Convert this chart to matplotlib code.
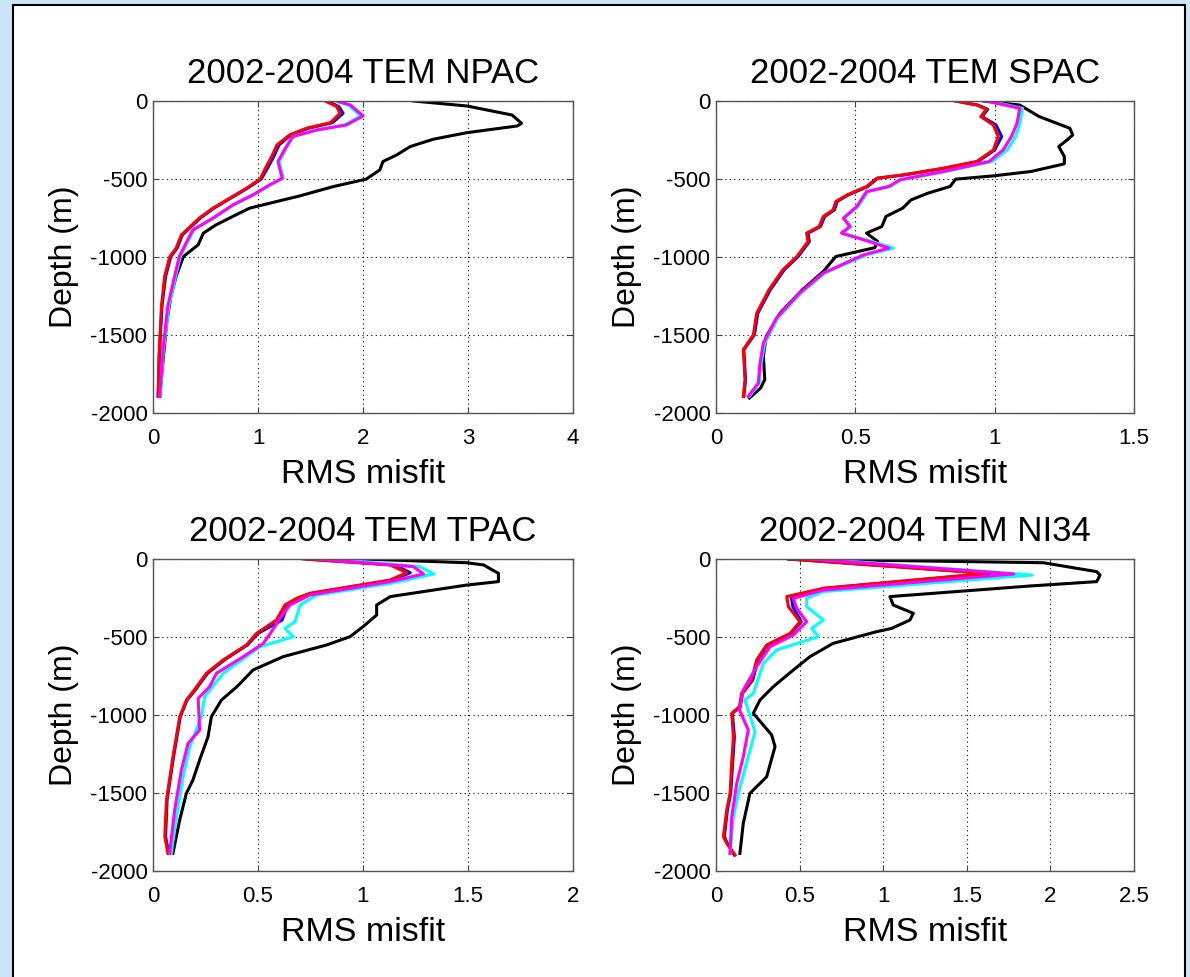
import matplotlib
matplotlib.use("Agg")
import matplotlib.pyplot as plt
from matplotlib.patches import Rectangle

plt.rcParams['font.family'] = ['Liberation Sans', 'DejaVu Sans']

# --- Data ---
titles = ["2002-2004 TEM NPAC", "2002-2004 TEM SPAC", "2002-2004 TEM TPAC", "2002-2004 TEM NI34"]
xlims = [4, 1.5, 2, 2.5]
xticks_list = [[0, 1, 2, 3, 4], [0, 0.5, 1, 1.5], [0, 0.5, 1, 1.5, 2], [0, 0.5, 1, 1.5, 2, 2.5]]
yticks = [0, -500, -1000, -1500, -2000]
series_colors = ["black", "blue", "red", "cyan", "magenta"]

# NPAC
npac_black_z = [0, -32, -90, -143, -160, -203, -245, -292, -346, -388, -442, -501, -548, -608, -644, -687,
                -730, -794, -847, -922, -997, -1125, -1253, -1423, -1637, -1893]
npac_black_x = [2.48, 2.99, 3.42, 3.51, 3.47, 2.99, 2.67, 2.45, 2.32, 2.19, 2.16, 2.03, 1.72, 1.40, 1.18, 0.92,
                0.79, 0.60, 0.48, 0.43, 0.29, 0.22, 0.17, 0.13, 0.10, 0.064]
npac_red_z = [0, -36, -79, -139, -175, -218, -282, -356, -431, -501, -559, -623, -687, -751, -858, -943,
              -997, -1125, -1317, -1637, -1893]
npac_red_x = [1.64, 1.75, 1.78, 1.69, 1.46, 1.30, 1.18, 1.13, 1.07, 1.02, 0.89, 0.73, 0.57, 0.44, 0.27, 0.22,
              0.16, 0.11, 0.08, 0.057, 0.048]
npac_blue_z = npac_red_z
npac_blue_x = [1.66, 1.77, 1.81, 1.71, 1.48, 1.31, 1.20, 1.15, 1.09, 1.03, 0.90, 0.74, 0.58, 0.45, 0.28, 0.23,
               0.17, 0.12, 0.085, 0.06, 0.05]
npac_mag_z = [0, -26, -96, -154, -186, -228, -303, -388, -495, -538, -602, -666, -751, -826, -890, -997,
              -1168, -1317, -1594, -1893]
npac_mag_x = [1.75, 1.88, 2.00, 1.84, 1.56, 1.33, 1.26, 1.19, 1.23, 1.11, 0.95, 0.76, 0.57, 0.38, 0.33, 0.25,
              0.19, 0.14, 0.095, 0.064]
npac_cyan_z = npac_mag_z
npac_cyan_x = [1.74, 1.86, 1.98, 1.82, 1.55, 1.33, 1.27, 1.20, 1.24, 1.12, 0.96, 0.77, 0.58, 0.39, 0.34, 0.26,
               0.20, 0.15, 0.10, 0.07]

# SPAC
spac_black_z = [0, -26, -100, -175, -218, -250, -292, -356, -403, -452, -480, -501, -548, -591, -634, -687,
                -740, -805, -847, -900, -940, -997, -1093, -1210, -1360, -1510, -1637, -1786, -1840, -1904]
spac_black_x = [0.96, 1.09, 1.16, 1.27, 1.28, 1.26, 1.23, 1.25, 1.25, 1.13, 0.995, 0.86, 0.84, 0.76, 0.70, 0.67,
                0.61, 0.595, 0.54, 0.58, 0.57, 0.43, 0.385, 0.31, 0.23, 0.18, 0.17, 0.175, 0.16, 0.12]
spac_red_z = [0, -26, -53, -100, -154, -228, -314, -388, -431, -474, -495, -548, -602, -644, -698, -740,
              -805, -847, -901, -997, -1082, -1210, -1360, -1498, -1594, -1786, -1893]
spac_red_x = [0.86, 0.935, 0.97, 0.95, 0.995, 1.013, 0.995, 0.935, 0.815, 0.67, 0.577, 0.54, 0.47, 0.43, 0.42,
              0.385, 0.37, 0.325, 0.33, 0.29, 0.24, 0.19, 0.146, 0.134, 0.098, 0.104, 0.098]
spac_blue_z = spac_red_z
spac_blue_x = [0.86, 0.94, 0.975, 0.955, 1.005, 1.025, 1.0, 0.94, 0.82, 0.675, 0.58, 0.545, 0.475, 0.435, 0.425,
               0.39, 0.375, 0.33, 0.335, 0.295, 0.245, 0.195, 0.15, 0.138, 0.1, 0.106, 0.1]
spac_mag_z = [0, -47, -143, -228, -314, -388, -452, -505, -548, -581, -676, -751, -805, -847, -901, -943,
              -986, -1103, -1231, -1391, -1551, -1679, -1807, -1893]
spac_mag_x = [0.97, 1.09, 1.08, 1.06, 1.03, 0.98, 0.815, 0.66, 0.62, 0.54, 0.505, 0.457, 0.48, 0.45, 0.55, 0.62,
              0.53, 0.385, 0.30, 0.217, 0.17, 0.158, 0.152, 0.116]
spac_cyan_z = spac_mag_z
spac_cyan_x = [0.98, 1.10, 1.09, 1.075, 1.045, 0.99, 0.825, 0.665, 0.625, 0.545, 0.51, 0.46, 0.485, 0.455, 0.56,
               0.636, 0.54, 0.39, 0.305, 0.222, 0.175, 0.162, 0.155, 0.12]

# TPAC
tpac_black_z = [0, -24, -38, -92, -145, -167, -241, -295, -359, -434, -498, -551, -626, -711, -818, -904,
                -1011, -1139, -1289, -1417, -1502, -1673, -1887]
tpac_black_x = [1.00, 1.494, 1.574, 1.645, 1.645, 1.494, 1.13, 1.065, 1.065, 1.00, 0.938, 0.827, 0.62, 0.477,
                0.40, 0.326, 0.278, 0.262, 0.222, 0.19, 0.159, 0.127, 0.095]
tpac_red_z = [0, -38, -88, -135, -220, -252, -295, -391, -477, -551, -647, -733, -851, -904, -1011, -1267,
              -1545, -1780, -1887]
tpac_red_x = [0.715, 1.129, 1.208, 1.129, 0.747, 0.684, 0.628, 0.588, 0.493, 0.445, 0.334, 0.254, 0.19, 0.159,
              0.127, 0.095, 0.064, 0.056, 0.071]
tpac_blue_z = tpac_red_z
tpac_blue_x = [0.73, 1.15, 1.225, 1.14, 0.755, 0.69, 0.64, 0.615, 0.50, 0.45, 0.34, 0.26, 0.195, 0.162, 0.13,
               0.098, 0.067, 0.06, 0.075]
tpac_mag_z = [0, -49, -96, -145, -231, -295, -380, -466, -541, -626, -733, -818, -893, -1096, -1182, -1353,
              -1609, -1887]
tpac_mag_x = [0.78, 1.24, 1.288, 1.129, 0.747, 0.652, 0.604, 0.564, 0.525, 0.43, 0.302, 0.27, 0.215, 0.222,
              0.167, 0.135, 0.103, 0.079]
tpac_cyan_z = [0, -49, -96, -156, -231, -295, -402, -445, -498, -562, -733, -883, -1011, -1203, -1396, -1652, -1887]
tpac_cyan_x = [0.84, 1.27, 1.336, 1.13, 0.779, 0.70, 0.676, 0.628, 0.668, 0.509, 0.334, 0.246, 0.23, 0.175,
               0.143, 0.111, 0.087]

# NI34
ni34_black_z = [0, -24, -81, -103, -145, -173, -241, -295, -348, -391, -445, -466, -541, -626, -712, -818,
                -904, -989, -1128, -1203, -1396, -1502, -1695, -1887]
ni34_black_x = [0.433, 1.958, 2.277, 2.297, 2.277, 1.878, 1.04, 1.06, 1.18, 1.16, 1.05, 0.96, 0.70, 0.562,
                0.462, 0.343, 0.263, 0.223, 0.333, 0.353, 0.303, 0.203, 0.163, 0.143]
ni34_red_z = [0, -92, -188, -241, -306, -402, -477, -551, -647, -776, -861, -947, -989, -1139, -1299, -1502,
              -1609, -1780, -1823, -1898]
ni34_red_x = [0.433, 1.619, 0.642, 0.423, 0.433, 0.502, 0.443, 0.303, 0.243, 0.213, 0.153, 0.14, 0.094, 0.104,
              0.094, 0.084, 0.064, 0.044, 0.064, 0.114]
ni34_blue_z = ni34_red_z
ni34_blue_x = [0.44, 1.64, 0.65, 0.45, 0.46, 0.51, 0.45, 0.31, 0.25, 0.22, 0.158, 0.145, 0.098, 0.11, 0.1,
               0.088, 0.068, 0.05, 0.068, 0.11]
ni34_mag_z = [0, -96, -199, -252, -316, -402, -487, -562, -690, -840, -968, -1096, -1267, -1438, -1652, -1887]
ni34_mag_x = [0.562, 1.78, 0.642, 0.462, 0.482, 0.542, 0.462, 0.323, 0.243, 0.163, 0.14, 0.193, 0.163, 0.124,
              0.094, 0.084]
ni34_cyan_z = [0, -103, -209, -252, -306, -391, -445, -498, -583, -669, -861, -904, -1107, -1267, -1502,
               -1652, -1887]
ni34_cyan_x = [0.622, 1.888, 0.642, 0.542, 0.542, 0.642, 0.572, 0.612, 0.363, 0.283, 0.223, 0.173, 0.233,
               0.193, 0.134, 0.104, 0.084]

panels = [
    [(npac_black_x, npac_black_z), (npac_blue_x, npac_blue_z), (npac_red_x, npac_red_z),
     (npac_cyan_x, npac_cyan_z), (npac_mag_x, npac_mag_z)],
    [(spac_black_x, spac_black_z), (spac_blue_x, spac_blue_z), (spac_red_x, spac_red_z),
     (spac_cyan_x, spac_cyan_z), (spac_mag_x, spac_mag_z)],
    [(tpac_black_x, tpac_black_z), (tpac_blue_x, tpac_blue_z), (tpac_red_x, tpac_red_z),
     (tpac_cyan_x, tpac_cyan_z), (tpac_mag_x, tpac_mag_z)],
    [(ni34_black_x, ni34_black_z), (ni34_blue_x, ni34_blue_z), (ni34_red_x, ni34_red_z),
     (ni34_cyan_x, ni34_cyan_z), (ni34_mag_x, ni34_mag_z)],
]

# --- Figure ---
W, H = 1190, 977
fig = plt.figure(figsize=(W / 100, H / 100), dpi=100, facecolor='#cce4fa')
# white inner panel with dark border (behind the axes)
fig.patches.append(Rectangle((13 / W, -0.01), (1185 - 13) / W, (H - 5) / H + 0.01,
                             transform=fig.transFigure, facecolor='white',
                             edgecolor='black', linewidth=1.5, zorder=-10))

# axes boxes in pixels: left, top, right, bottom
boxes = [(153, 101, 573, 413), (716, 101, 1134, 413),
         (153, 559, 573, 871), (716, 559, 1134, 871)]

for i, (l, t, r, b) in enumerate(boxes):
    ax = fig.add_axes([l / W, (H - b) / H, (r - l) / W, (b - t) / H])
    for (x, z), c in zip(panels[i], series_colors):
        ax.plot(x, z, color=c, linewidth=2.2)
    ax.set_xlim(0, xlims[i])
    ax.set_ylim(-2000, 0)
    ax.set_xticks(xticks_list[i])
    ax.set_xticklabels([f"{v:g}" for v in xticks_list[i]])
    ax.set_yticks(yticks)
    ax.set_yticklabels([f"{v:d}" for v in yticks])
    ax.grid(True, color='black', linestyle=(0, (1, 3)), linewidth=0.8)
    ax.tick_params(direction='in', length=4, width=0.8, labelsize=16, top=True, right=True,
                   color='#444444')
    ax.tick_params(axis='x', pad=11)
    ax.tick_params(axis='y', pad=4)
    for s in ax.spines.values():
        s.set_color('#555555')
        s.set_linewidth(1.0)
    ax.set_title(titles[i], fontsize=25, pad=13)
    ax.set_xlabel('RMS misfit', fontsize=24.5, labelpad=7)
    ax.set_ylabel('Depth (m)', fontsize=23, labelpad=8)

fig.savefig('out.png', dpi=100, facecolor=fig.get_facecolor())
